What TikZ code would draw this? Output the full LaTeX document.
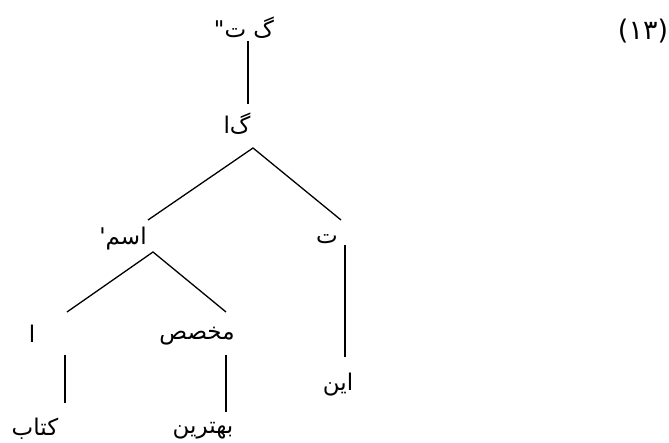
\documentclass[tikz,border=0pt]{standalone}
\usepackage{fontspec}
\TeXXeTstate=1
\newfontfamily\fa[Script=Arabic,Ligatures=TeXOff]{DejaVu Sans}
\begin{document}
\begin{tikzpicture}[x=1pt,y=-1pt,
  lab/.style={font=\fa\fontsize{23}{26}\selectfont, inner sep=0pt, anchor=center},
  edge/.style={line width=1.3pt}]
\useasboundingbox (0,0) rectangle (669,443);
% labels
\node[lab] (root) at (244,28) {\beginR گ ت"\endR};
\node[lab] (ga) at (237,124) {\beginR گ^^^^200cا\endR};
\node[lab] (ismp) at (123,239) {\beginR اسم'\endR};
\node[lab] (te) at (327,239) {\beginR ت\endR};
\node[lab] (alef) at (32,334) {\beginR ا\endR};
\node[lab] (mokh) at (197,336) {\beginR مخصص\endR};
\node[lab] (in) at (338,385) {\beginR این\endR};
\node[lab] (ketab) at (35,429) {\beginR کتاب\endR};
\node[lab] (behtarin) at (203,431) {\beginR بهترین\endR};
\node[lab, font=\fa\fontsize{27}{30}\selectfont] (num) at (643,31) {(۱۳)};
% connector end points
\coordinate (r1) at (248,41);  \coordinate (r2) at (248,104);
\coordinate (ga0) at (253,148); \coordinate (gaL) at (148,220); \coordinate (gaR) at (341,220);
\coordinate (is0) at (153,252); \coordinate (isL) at (67,312);  \coordinate (isR) at (226,312);
\coordinate (te1) at (345,245); \coordinate (te2) at (345,357);
\coordinate (al1) at (65,355);  \coordinate (al2) at (65,403);
\coordinate (mo1) at (226,355); \coordinate (mo2) at (226,412);
% connectors
\draw[edge] (r1) -- (r2);
\draw[edge] (gaL) -- (ga0) -- (gaR);
\draw[edge] (isL) -- (is0) -- (isR);
\draw[edge] (te1) -- (te2);
\draw[edge] (al1) -- (al2);
\draw[edge] (mo1) -- (mo2);
\end{tikzpicture}
\end{document}
